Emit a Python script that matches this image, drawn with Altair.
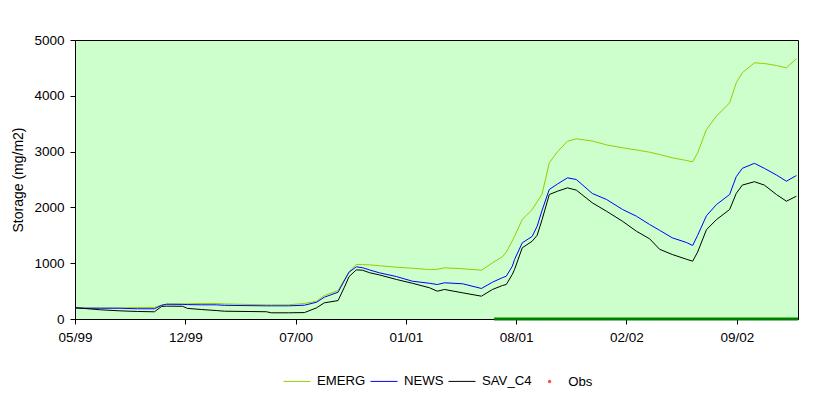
import altair as alt
import pandas as pd

dates = [
    "1999-05-30", "1999-06-17", "1999-07-15", "1999-08-18", "1999-09-20", "1999-10-21",
    "1999-11-03", "1999-11-12", "1999-12-11", "1999-12-20", "2000-01-14", "2000-02-10",
    "2000-02-25", "2000-05-11", "2000-05-20", "2000-06-20", "2000-07-19", "2000-08-10",
    "2000-08-24", "2000-09-18", "2000-09-29", "2000-10-08", "2000-10-21", "2000-11-01",
    "2000-11-14", "2000-12-02", "2001-01-02", "2001-01-31", "2001-03-03", "2001-03-17",
    "2001-03-30", "2001-05-02", "2001-06-05", "2001-06-25", "2001-07-13", "2001-07-20",
    "2001-07-31", "2001-08-04", "2001-08-18", "2001-09-05", "2001-09-14", "2001-09-23",
    "2001-10-06", "2001-10-21", "2001-11-08", "2001-11-24", "2001-12-23", "2002-01-18",
    "2002-02-16", "2002-03-13", "2002-04-06", "2002-04-24", "2002-05-17", "2002-06-12",
    "2002-06-23", "2002-07-02", "2002-07-18", "2002-08-05", "2002-08-29", "2002-09-10",
    "2002-09-21", "2002-10-13", "2002-10-31", "2002-11-22", "2002-12-10", "2002-12-28",
]

emerg = [
    200, 194, 194, 194, 206, 206,
    250, 265, 270, 272, 278, 278,
    270, 254, 254, 254, 278, 320,
    420, 510, 700, 850, 977, 975,
    971, 955, 928, 910, 887, 890,
    917, 900, 875, 1007, 1115, 1200,
    1400, 1484, 1783, 1962, 2100, 2240,
    2799, 3000, 3186, 3229, 3190, 3120,
    3068, 3030, 2989, 2948, 2889, 2840,
    2817, 2978, 3396, 3634, 3874, 4232,
    4412, 4591, 4579, 4543, 4502, 4663,
]

news = [
    200, 194, 194, 194, 183, 183,
    245, 265, 262, 258, 254, 254,
    245, 236, 236, 236, 247, 300,
    390, 480, 680, 840, 935, 920,
    880, 828, 760, 677, 640, 618,
    649, 631, 547, 660, 740, 767,
    946, 1066, 1365, 1480, 1663, 1950,
    2321, 2420, 2530, 2500, 2250, 2141,
    1962, 1842, 1693, 1590, 1455, 1370,
    1317, 1500, 1850, 2050, 2231, 2550,
    2700, 2790, 2700, 2580, 2469, 2571,
]

sav_c4 = [
    200, 188, 165, 147, 135, 129,
    225, 230, 228, 190, 170, 152,
    140, 130, 111, 111, 115, 200,
    290, 330, 560, 760, 880, 875,
    830, 790, 708, 640, 559, 498,
    529, 469, 409, 529, 600, 618,
    800, 887, 1276, 1394, 1500, 1783,
    2231, 2290, 2350, 2310, 2082, 1930,
    1750, 1573, 1437, 1250, 1156, 1070,
    1036, 1200, 1600, 1780, 1962, 2250,
    2400, 2460, 2400, 2230, 2111, 2200,
]

obs_dates = ["2001-06-28", "2002-12-31"]
obs_values = [0, 0]

series_names = ["EMERG", "NEWS", "SAV_C4"]
series_colors = ["#99CC00", "#0000FF", "#000000"]
obs_name = ["Obs"]
obs_color = ["#FF0000"]

x_ticks = [(1999, 5, 30), (1999, 12, 16), (2000, 7, 3), (2001, 1, 19),
           (2001, 8, 7), (2002, 2, 23), (2002, 9, 11)]
y_ticks = [0, 500, 1000, 1500, 2000, 2500, 3000, 3500, 4000, 4500, 5000]

rows = []
for name, vals in [("EMERG", emerg), ("NEWS", news), ("SAV_C4", sav_c4)]:
    for d, v in zip(dates, vals):
        rows.append({"date": d, "value": v, "series": name})
df = pd.DataFrame(rows)
obs_df = pd.DataFrame({"date": obs_dates, "value": obs_values, "label": ["Obs", "Obs"]})

FONT = "Liberation Sans"

def dt(y, m, d):
    return alt.DateTime(year=y, month=m, date=d, utc=True)

x_scale = alt.Scale(type="utc", domain=[dt(1999, 5, 30), dt(2002, 12, 31)])
y_scale = alt.Scale(domain=[0, 5000])

x_axis = alt.Axis(values=[dt(*t) for t in x_ticks], format="%m/%y", title=None,
                  grid=False, tickSize=5, tickColor="black", domainColor="black",
                  labelFont=FONT, labelFontSize=13.5, labelColor="black", labelPadding=6,
                  labelFlush=False)
y_axis = alt.Axis(values=y_ticks, format="d", title="Storage (mg/m2)", grid=False,
                  tickSize=5, tickColor="black", domainColor="black", labelFont=FONT,
                  labelFontSize=13.5, labelColor="black", labelPadding=6,
                  titleFont=FONT, titleFontSize=14, titleFontWeight="normal",
                  titleColor="black", titlePadding=8)

line_legend = alt.Legend(
    title=None, orient="none", direction="horizontal", legendX=208, legendY=327,
    symbolType="stroke", symbolSize=729, symbolStrokeWidth=1,
    labelFont=FONT, labelFontSize=13.2, labelColor="black", labelOffset=6,
    columnPadding=2,
)
obs_legend = alt.Legend(
    title=None, orient="none", direction="horizontal", legendX=468, legendY=335,
    symbolType="circle", symbolSize=12, symbolStrokeWidth=0,
    labelFont=FONT, labelFontSize=13.2, labelColor="black", labelOffset=12,
)

lines = alt.Chart(df).mark_line(strokeWidth=1, clip=True).encode(
    x=alt.X("date:T", scale=x_scale, axis=x_axis),
    y=alt.Y("value:Q", scale=y_scale, axis=y_axis),
    color=alt.Color("series:N", scale=alt.Scale(domain=series_names, range=series_colors),
                    legend=line_legend, sort=series_names),
    order=alt.Order("date:T"),
)

obs = alt.Chart(obs_df).mark_line(strokeWidth=3, color="#008000").encode(
    x=alt.X("date:T", scale=x_scale),
    y=alt.Y("value:Q", scale=y_scale),
)

obs_points = alt.Chart(obs_df).transform_filter("datum.value > 0").mark_point(
    filled=True).encode(
    x=alt.X("date:T", scale=x_scale),
    y=alt.Y("value:Q", scale=y_scale),
    fill=alt.Fill("label:N", scale=alt.Scale(domain=obs_name, range=obs_color),
                  legend=obs_legend),
)

chart = alt.layer(lines, obs, obs_points).properties(
    width=723, height=279,
    autosize=alt.AutoSizeParams(type="none"),
    padding={"left": 67, "top": 32, "right": 26, "bottom": 72},
    background="white",
).configure_view(fill="#CCFFCC", stroke="black", strokeWidth=1)

chart.save("out.html", embed_options={"renderer": "svg", "actions": False})
